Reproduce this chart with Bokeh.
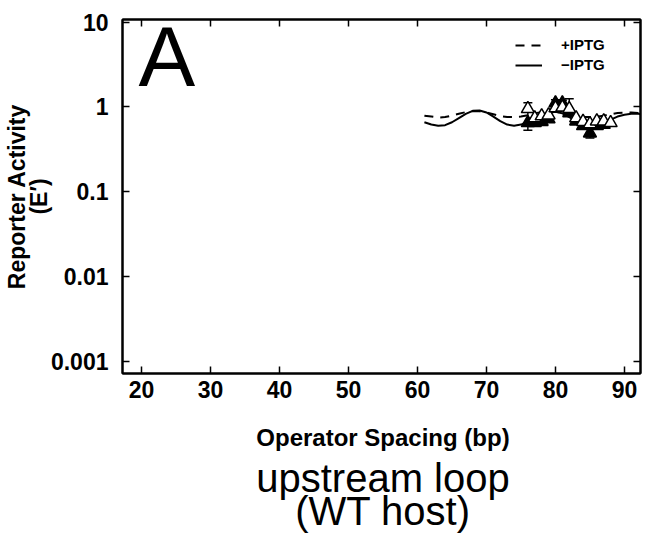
from bokeh.plotting import figure
from bokeh.layouts import column
from bokeh.models import (ColumnDataSource, Whisker, TeeHead, Label, Legend, LegendItem,
                          FixedTicker, CustomJSTickFormatter, LinearAxis, LogAxis, Range1d)
from bokeh.embed import file_html
from bokeh.resources import INLINE

# ---- data ----
curve_x = [61, 62, 63, 64, 65, 66, 67, 68, 69, 70, 71, 72, 73, 74, 75, 76, 77, 78,
           79, 80, 81, 82, 83, 84, 85, 86, 87, 88, 89, 90, 91, 92, 92.5]
plus_curve = [0.79, 0.77, 0.75, 0.76, 0.79, 0.83, 0.87, 0.89, 0.89, 0.86, 0.82, 0.78,
              0.76, 0.76, 0.77, 0.80, 0.84, 0.87, 0.89, 0.88, 0.85, 0.81, 0.78, 0.76,
              0.76, 0.77, 0.79, 0.82, 0.85, 0.86, 0.86, 0.85, 0.85]
minus_curve = [0.66, 0.62, 0.60, 0.61, 0.66, 0.74, 0.83, 0.90, 0.91, 0.86, 0.77, 0.68,
               0.62, 0.60, 0.62, 0.67, 0.74, 0.81, 0.85, 0.88, 0.84, 0.76, 0.68, 0.62,
               0.60, 0.61, 0.65, 0.71, 0.77, 0.81, 0.83, 0.83, 0.82]

plus_x = [76, 77, 78, 79, 80, 81, 82, 83, 84, 85, 86, 87, 88]
plus_y = [0.95, 0.74, 0.78, 0.80, 0.97, 0.99, 0.95, 0.74, 0.67, 0.63, 0.68, 0.68, 0.65]
minus_x = [76, 77, 78, 79, 80, 81, 82, 83, 84, 85, 86, 87]
minus_y = [0.65, 0.65, 0.67, 0.72, 1.11, 1.11, 0.85, 0.68, 0.60, 0.49, 0.60, 0.62]

err_x = [76, 80, 81, 82, 85, 86, 87]
err_lo = [0.53, 1.00, 1.00, 0.78, 0.43, 0.56, 0.58]
err_hi = [1.12, 1.22, 1.20, 1.25, 0.56, 0.64, 0.66]

x_ticks = [20, 30, 40, 50, 60, 70, 80, 90]
y_ticks = [0.001, 0.01, 0.1, 1, 10]

FONT = "Liberation Sans"
LEFT, RIGHT = 117, 5

# ---------------- main plot ----------------
p = figure(width=645, height=410, output_backend="svg", toolbar_location=None,
           y_axis_type="log",
           x_range=Range1d(17.23, 92.33), y_range=Range1d(10 ** -3.145, 10 ** 1.032),
           min_border_left=LEFT, min_border_right=RIGHT, min_border_top=19,
           min_border_bottom=37)
p.background_fill_color = "white"
p.border_fill_color = "white"
p.grid.visible = False
p.outline_line_color = "black"
p.outline_line_width = 2

xa = p.xaxis[0]
ya = p.yaxis[0]
xa.ticker = FixedTicker(ticks=x_ticks)
ya.ticker = FixedTicker(ticks=y_ticks)
ya.formatter = CustomJSTickFormatter(code="return tick >= 1 ? tick.toFixed(0) : tick.toPrecision(1);")
for ax in (xa, ya):
    ax.major_tick_in = 7
    ax.major_tick_out = 0
    ax.minor_tick_line_color = None
    ax.major_tick_line_width = 1.5
    ax.axis_line_width = 2
    ax.major_label_text_font = FONT
    ax.major_label_text_font_style = "bold"
    ax.major_label_text_font_size = "23px"
    ax.major_label_text_color = "black"
xa.major_label_standoff = 7
ya.major_label_standoff = 14

ya.axis_label = "Reporter Activity\n(E\u2032)"
ya.axis_label_text_font = FONT
ya.axis_label_text_font_style = "bold"
ya.axis_label_text_font_size = "23px"
ya.axis_label_text_color = "black"
ya.axis_label_text_line_height = 0.85
ya.axis_label_standoff = -4

top = LinearAxis(ticker=FixedTicker(ticks=x_ticks),
                 formatter=CustomJSTickFormatter(code="return '';"))
right = LogAxis(ticker=FixedTicker(ticks=y_ticks),
                formatter=CustomJSTickFormatter(code="return '';"))
for ax in (top, right):
    ax.major_tick_in = 7
    ax.major_tick_out = 0
    ax.minor_tick_line_color = None
    ax.major_tick_line_width = 1.5
    ax.axis_line_width = 2
    ax.major_label_standoff = 0
    ax.major_label_text_font_size = "1px"
p.add_layout(top, "above")
p.add_layout(right, "right")

src_c = ColumnDataSource(dict(x=curve_x, plus=plus_curve, minus=minus_curve))
r_plus = p.line("x", "plus", source=src_c, line_color="black", line_width=2, line_dash="9 7")
r_minus = p.line("x", "minus", source=src_c, line_color="black", line_width=2)

src_e = ColumnDataSource(dict(x=err_x, lo=err_lo, hi=err_hi))
wh = Whisker(source=src_e, base="x", lower="lo", upper="hi", line_color="black", line_width=1.5,
             upper_head=TeeHead(size=9, line_width=1.5, line_color="black"),
             lower_head=TeeHead(size=9, line_width=1.5, line_color="black"))
p.add_layout(wh)

p.scatter(minus_x, minus_y, marker="triangle", size=13, fill_color="black", line_color="black",
          line_width=1.5)
p.scatter(plus_x, plus_y, marker="triangle", size=13, fill_color="white", line_color="black",
          line_width=1.5)

leg = Legend(items=[LegendItem(label="+IPTG", renderers=[r_plus]),
                    LegendItem(label="\u2212IPTG", renderers=[r_minus])],
             location=(393, 300), border_line_color=None, background_fill_alpha=0,
             label_text_font=FONT, label_text_font_style="bold", label_text_font_size="15px",
             label_text_color="black",
             glyph_width=27, glyph_height=16, label_standoff=19, spacing=3, padding=0,
             margin=0, label_height=16)
p.add_layout(leg)

p.add_layout(Label(x=16, y=317, x_units="screen", y_units="screen", text="A",
                   text_font=FONT, text_font_size="85px", text_align="left",
                   text_baseline="alphabetic", text_color="black"))

# ---------------- bottom text panel (x in page pixels) ----------------
t = figure(width=645, height=124, output_backend="svg", toolbar_location=None,
           x_range=Range1d(LEFT, 645 - RIGHT), y_range=Range1d(0, 124),
           min_border_left=LEFT, min_border_right=RIGHT, min_border_top=0, min_border_bottom=0,
           outline_line_color=None)
t.axis.visible = False
t.grid.visible = False
t.add_layout(Label(x=380, y=97, text="Operator Spacing (bp)", text_font=FONT,
                   text_font_size="24px", text_font_style="bold", text_align="center",
                   text_baseline="middle", text_color="black"))
t.add_layout(Label(x=380, y=57, text="upstream loop", text_font=FONT,
                   text_font_size="40px", text_align="center",
                   text_baseline="middle", text_color="black"))
t.add_layout(Label(x=380, y=24, text="(WT host)", text_font=FONT,
                   text_font_size="40px", text_align="center",
                   text_baseline="middle", text_color="black"))

layout = column(p, t, spacing=0)
open("out.html", "w").write(file_html(layout, INLINE))
